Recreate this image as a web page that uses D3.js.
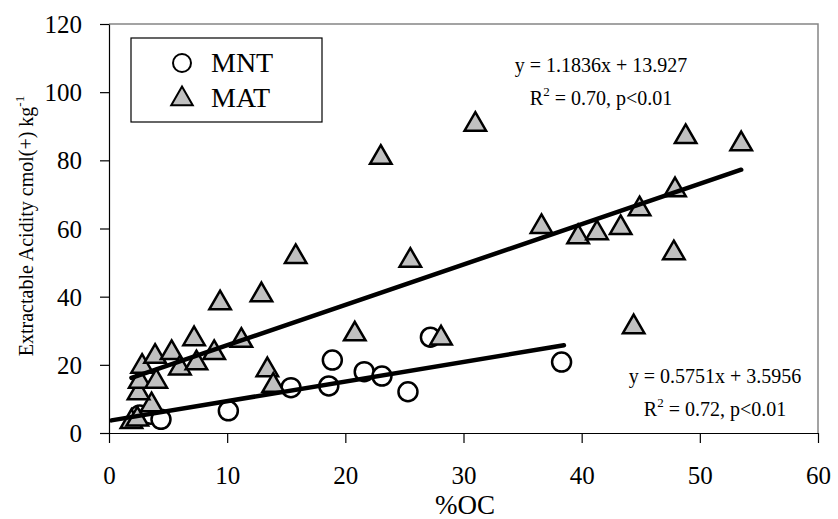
<!DOCTYPE html>
<html>
<head>
<meta charset="utf-8">
<script src="https://cdn.jsdelivr.net/npm/d3@7"></script>
<style>
  body { margin: 0; background: #fff; }
  text { font-family: "Liberation Serif", "Times New Roman", serif; fill: #000; }
</style>
</head>
<body>
<div id="chart"></div>
<script>
// MNT samples: [%OC, extractable acidity]
const mnt = [
  [2.6, 5.3], [3.5, 5.5], [4.4, 4.0], [10.1, 6.5], [15.4, 13.3], [18.6, 13.8],
  [18.9, 21.4], [21.6, 18.0], [23.1, 16.7], [25.3, 12.1], [27.2, 28.1], [38.3, 20.8]
];

// MAT samples
const mat = [
  [1.9, 3.3], [2.4, 4.0], [3.6, 8.2], [2.5, 11.7], [2.6, 15.1], [4.0, 15.1],
  [2.8, 19.5], [3.9, 22.4], [5.3, 23.5], [6.0, 19.0], [7.4, 20.5], [7.2, 27.6],
  [8.9, 23.5], [9.4, 38.1], [11.2, 27.1], [12.9, 40.5], [13.4, 18.5], [13.9, 13.9],
  [15.8, 51.7], [20.8, 29.0], [23.0, 80.8], [25.5, 50.6], [28.1, 27.8], [31.0, 90.5],
  [36.6, 60.5], [39.7, 57.5], [41.3, 58.7], [43.3, 60.2], [44.4, 31.1], [44.9, 65.7],
  [47.8, 52.8], [47.9, 71.3], [48.8, 86.9], [53.5, 84.8]
];

// trendlines: slope, intercept, x range
const fitMNT = { slope: 0.5751, icept: 3.5956, from: 0.2, to: 38.5 };
const fitMAT = { slope: 1.1836, icept: 13.927, from: 1.9, to: 53.5 };

const xTicks = [0, 10, 20, 30, 40, 50, 60];
const yTicks = [0, 20, 40, 60, 80, 100, 120];

const W = 838, H = 519;
const svg = d3.select("#chart").append("svg")
  .attr("width", W).attr("height", H);

const x = d3.scaleLinear().domain([0, 60]).range([109, 818]);
const y = d3.scaleLinear().domain([0, 120]).range([433, 24]);

// plot border (top/right, grey)
svg.append("path")
  .attr("d", `M${x(0)},${y(120)}H${x(60)}V${y(0)}`)
  .attr("fill", "none")
  .attr("stroke", "#858585")
  .attr("stroke-width", 1.5);

// Axes
const gx = svg.append("g")
  .attr("transform", `translate(0,${y(0)})`)
  .call(d3.axisBottom(x).tickValues(xTicks).tickSize(10).tickSizeOuter(0));
gx.selectAll("text").attr("y", 51).attr("dy", 0).style("font-size", "25px");

const gy = svg.append("g")
  .attr("transform", `translate(${x(0)},0)`)
  .call(d3.axisLeft(y).tickValues(yTicks).tickSize(9).tickPadding(18).tickSizeOuter(0));
gy.selectAll("text").attr("dy", "0.34em").style("font-size", "25px");

svg.selectAll(".domain").attr("stroke", "#000").attr("stroke-width", 1.2);
svg.selectAll(".tick line").attr("stroke", "#000").attr("stroke-width", 1.2);
svg.selectAll(".tick text").style("font-family", "Liberation Serif");

// Labels
svg.append("text")
  .attr("x", 465).attr("y", 514)
  .attr("text-anchor", "middle")
  .style("font-size", "27px")
  .text("%OC");

const yl = svg.append("text")
  .attr("transform", "translate(33,226) rotate(-90)")
  .attr("text-anchor", "middle")
  .style("font-size", "20px");
yl.append("tspan").text("Extractable Acidity cmol(+) kg");
yl.append("tspan").attr("dy", -9).style("font-size", "13px").text("-1");

// markers
const tri = d3.symbol().type(d3.symbolTriangle).size(200);

svg.append("g").selectAll("circle")
  .data(mnt)
  .join("circle")
  .attr("cx", d => x(d[0]))
  .attr("cy", d => y(d[1]))
  .attr("r", 9.5)
  .attr("fill", "#fff")
  .attr("stroke", "#000")
  .attr("stroke-width", 2.5);

svg.append("g").selectAll("path")
  .data(mat)
  .join("path")
  .attr("d", tri)
  .attr("transform", d => `translate(${x(d[0])},${y(d[1])})`)
  .attr("fill", "#c0c0c0")
  .attr("stroke", "#000")
  .attr("stroke-width", 2.5)
  .attr("stroke-linejoin", "miter");

// trendlines
[fitMNT, fitMAT].forEach(f => {
  svg.append("line")
    .attr("x1", x(f.from)).attr("y1", y(f.slope * f.from + f.icept))
    .attr("x2", x(f.to)).attr("y2", y(f.slope * f.to + f.icept))
    .attr("stroke", "#000")
    .attr("stroke-width", 4.5)
    .attr("stroke-linecap", "round");
});

// equations
function equation(cx, by, line1, r2) {
  svg.append("text")
    .attr("x", cx).attr("y", by)
    .attr("text-anchor", "middle")
    .style("font-size", "20px")
    .text(line1);
  const t = svg.append("text")
    .attr("x", cx).attr("y", by + 33)
    .attr("text-anchor", "middle")
    .style("font-size", "20px");
  t.append("tspan").text("R");
  t.append("tspan").attr("dy", -9).style("font-size", "13px").text("2");
  t.append("tspan").attr("dy", 9).text(" = " + r2 + ", p<0.01");
}
equation(601, 72, "y = 1.1836x + 13.927", "0.70");
equation(715, 383, "y = 0.5751x + 3.5956", "0.72");

// legend
const lg = svg.append("g");
lg.append("rect")
  .attr("x", 131).attr("y", 38)
  .attr("width", 191).attr("height", 84)
  .attr("fill", "#fff")
  .attr("stroke", "#000")
  .attr("stroke-width", 1.2);
lg.append("circle")
  .attr("cx", 182).attr("cy", 63).attr("r", 9)
  .attr("fill", "#fff").attr("stroke", "#000").attr("stroke-width", 2);
lg.append("path")
  .attr("d", tri)
  .attr("transform", "translate(182,99)")
  .attr("fill", "#c0c0c0").attr("stroke", "#000").attr("stroke-width", 2);
lg.append("text").attr("x", 211).attr("y", 72).style("font-size", "28px").text("MNT");
lg.append("text").attr("x", 211).attr("y", 107).style("font-size", "28px").text("MAT");
</script>
</body>
</html>
